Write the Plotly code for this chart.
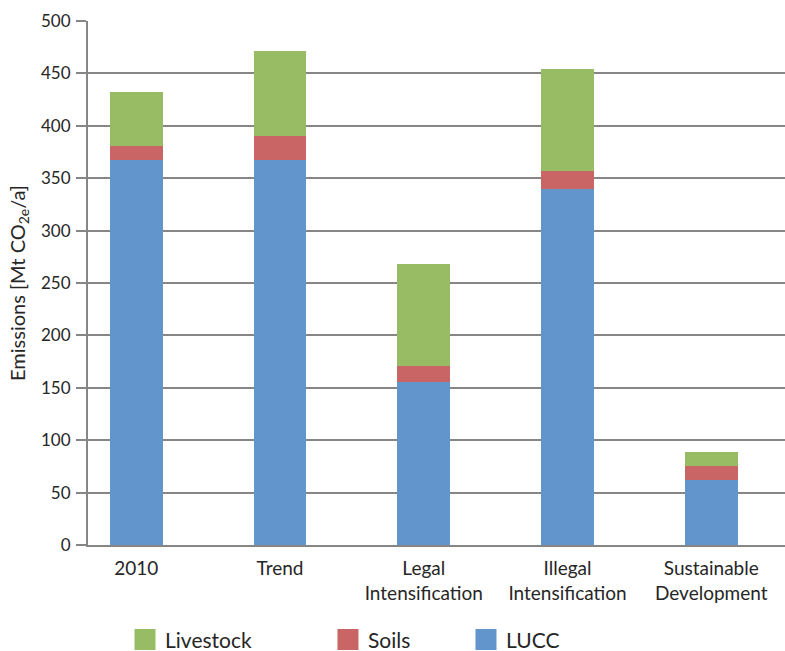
import plotly.graph_objects as go

categories = ["2010", "Trend", "Legal<br>Intensification", "Illegal<br>Intensification", "Sustainable<br>Development"]
lucc = [367, 367, 156, 340, 62]
soils = [14, 23, 15, 17, 13]
livestock = [51, 81, 97, 97, 14]
y_ticks = [0, 50, 100, 150, 200, 250, 300, 350, 400, 450, 500]

series = [
    ("LUCC", lucc, "#6295CC", "legend3"),
    ("Soils", soils, "#C96665", "legend2"),
    ("Livestock", livestock, "#97BC63", "legend"),
]

x = list(range(len(categories)))
font = "Lato, 'Open Sans', sans-serif"

fig = go.Figure()
for name, vals, color, leg in series:
    fig.add_trace(go.Bar(x=x, y=vals, name=name, marker=dict(color=color, line=dict(width=0)),
                         width=0.366, showlegend=False))
    # legend-only swatch (bigger square)
    fig.add_trace(go.Scatter(x=[None], y=[None], mode="markers", name=name, legend=leg,
                             marker=dict(symbol="square", size=30, color=color,
                                         line=dict(color=color, width=6))))

leg_common = dict(orientation="h", y=-0.181, yanchor="middle", xanchor="left",
                  font=dict(size=21), bgcolor="rgba(0,0,0,0)", itemsizing="trace")

fig.update_layout(
    width=785, height=651,
    barmode="stack",
    plot_bgcolor="white", paper_bgcolor="white",
    margin=dict(l=88, r=0, t=21, b=106, autoexpand=False),
    font=dict(family=font, size=17, color="#262626"),
    xaxis=dict(
        range=[-0.336, 4.513], tickmode="array", tickvals=x, ticktext=categories,
        showgrid=False, showline=True, linecolor="#868686", linewidth=2,
        ticks="", zeroline=False, tickfont=dict(size=19), automargin=False,
        ticklabelstandoff=5,
    ),
    yaxis=dict(
        range=[0, 500], tickmode="array", tickvals=y_ticks,
        showgrid=True, gridcolor="#868686", gridwidth=2,
        showline=True, linecolor="#868686", linewidth=2,
        ticks="outside", ticklen=10, tickcolor="#868686", tickwidth=2,
        zeroline=False, tickfont=dict(size=17), automargin=False,
        ticklabelstandoff=2,
        title=dict(text="Emissions [Mt CO<sub>2e</sub>/a]", font=dict(size=20), standoff=10),
    ),
    legend=dict(x=0.0531, **leg_common),
    legend2=dict(x=0.3443, **leg_common),
    legend3=dict(x=0.5423, **leg_common),
    bargap=0,
)

fig.write_html("out.html")
